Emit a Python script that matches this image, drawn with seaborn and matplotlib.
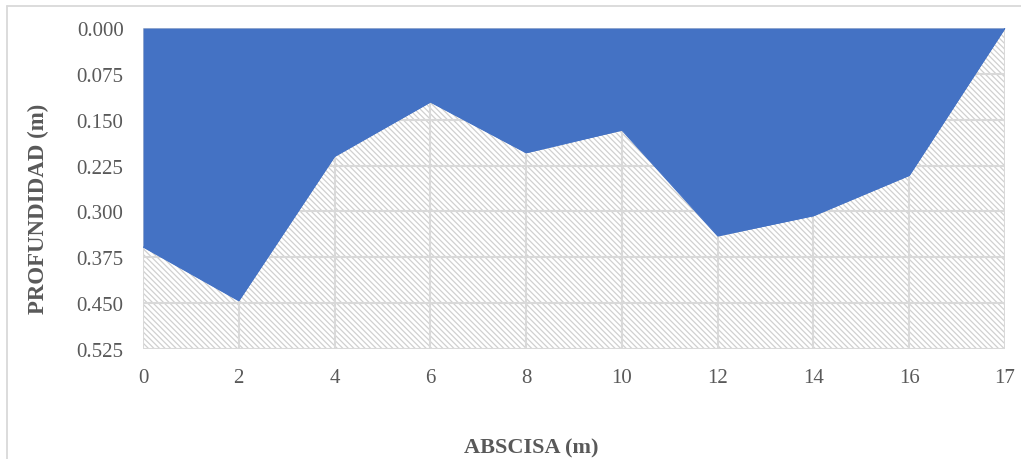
import numpy as np
import pandas as pd
import matplotlib
matplotlib.use("Agg")
import matplotlib.pyplot as plt
from matplotlib.lines import Line2D
import seaborn as sns

# Cross-section survey: horizontal station and measured depth
abscisa = ["0", "2", "4", "6", "8", "10", "12", "14", "16", "17"]
profundidad = [0.358, 0.446, 0.210, 0.121, 0.204, 0.167, 0.340, 0.307, 0.241, 0.000]
y_ticks = [0.000, 0.075, 0.150, 0.225, 0.300, 0.375, 0.450, 0.525]

df = pd.DataFrame({"pos": np.arange(len(abscisa)), "abscisa": abscisa,
                   "profundidad": profundidad})

sns.set_theme(style="white")
plt.rcParams["font.family"] = ["Liberation Serif", "DejaVu Serif"]
plt.rcParams["hatch.color"] = "#d0d0d0"
plt.rcParams["hatch.linewidth"] = 0.9

BLUE = "#4472C4"
GRID = "#D9D9D9"
TXT = "#595959"

fig = plt.figure(figsize=(10.21, 4.60), dpi=100)
ax = fig.add_axes([143 / 1021, 1 - 350 / 460, (1005 - 143) / 1021, (350 - 29) / 460])

y_bottom = y_ticks[-1]

# soil below the water section (hatched)
ax.fill_between(df["pos"], df["profundidad"], y_bottom, facecolor="none",
                edgecolor="#d0d0d0", hatch="\\\\\\\\\\\\", linewidth=0, zorder=0.3)
# water section
ax.fill_between(df["pos"], 0, df["profundidad"], color=BLUE, linewidth=0, zorder=2)
sns.lineplot(data=df, x="pos", y="profundidad", color=BLUE, linewidth=0.8,
             ax=ax, zorder=2.1)

ax.set_xlim(0, len(abscisa) - 1)
ax.set_ylim(y_bottom, 0)
ax.set_xticks(df["pos"])
ax.set_xticklabels(abscisa)
ax.set_yticks(y_ticks)
ax.set_yticklabels([f"{v:.3f}" for v in y_ticks])
ax.set_axisbelow(True)
ax.grid(True, color=GRID, linewidth=1.5, zorder=1)
for s in ax.spines.values():
    s.set_visible(False)
ax.tick_params(length=0, labelsize=15, labelcolor=TXT)
ax.tick_params(axis="y", pad=14)
ax.tick_params(axis="x", pad=14)
ax.set_xlabel("")
ax.set_ylabel("")

fig.text(531 / 1021, 1 - 448 / 460, "ABSCISA (m)", ha="center", va="center",
         fontsize=16, fontweight="bold", color=TXT)
fig.text(38 / 1021, 1 - 209 / 460, "PROFUNDIDAD (m)", ha="center", va="center",
         rotation=90, fontsize=16.5, fontweight="bold", color=TXT)

# chart frame
fig.add_artist(Line2D([7 / 1021, 7 / 1021], [0, 1 - 7 / 460], color=GRID,
                      linewidth=1.3, transform=fig.transFigure))
fig.add_artist(Line2D([7 / 1021, 1], [1 - 7 / 460, 1 - 7 / 460], color=GRID,
                      linewidth=1.3, transform=fig.transFigure))

fig.savefig("out.png", dpi=100)
